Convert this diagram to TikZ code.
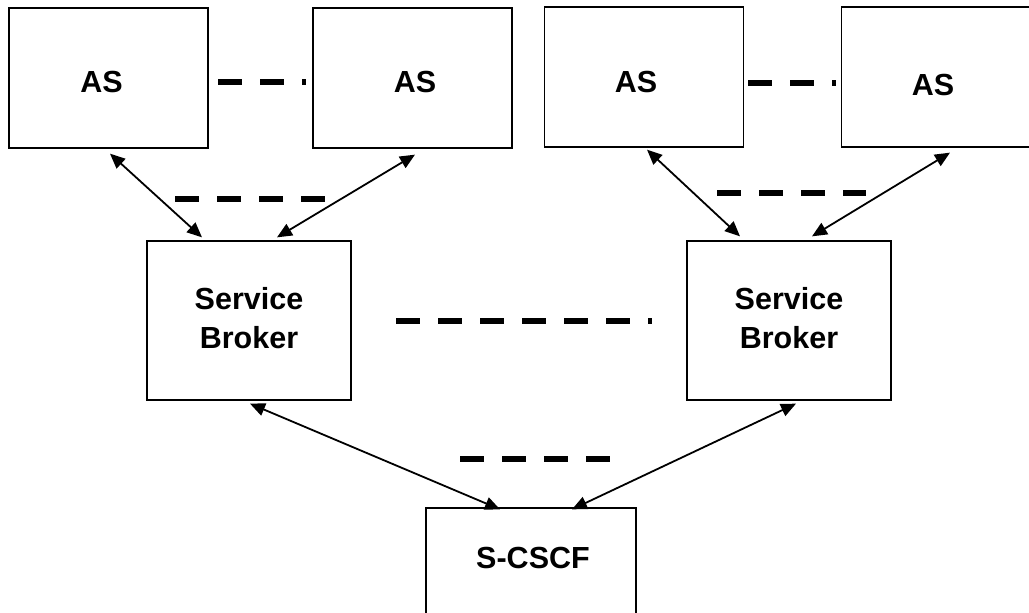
\documentclass[tikz,border=0pt]{standalone}
\usepackage{fontspec}
\setmainfont{Liberation Sans}
\usetikzlibrary{arrows.meta,calc}

\tikzset{
  box/.style={draw=black, line width=1.3pt, fill=white, inner sep=0pt},
  asbox/.style={box, minimum width=199pt, minimum height=140pt},
  sbbox/.style={box, minimum width=204pt, minimum height=159pt},
  cscfbox/.style={box, minimum width=210pt, minimum height=160pt},
  lbl/.style={font=\fontsize{30.5}{39}\selectfont\bfseries, align=center, inner sep=0pt},
  link/.style={line width=1.8pt, {Triangle[length=15pt,width=13pt]}-{Triangle[length=15pt,width=13pt]}},
  more/.style={line width=6pt, dash pattern=on 24pt off 18pt}
}

\begin{document}
\begin{tikzpicture}[x=1pt,y=-1pt]
  \useasboundingbox (0,0) rectangle (1029,613);
  \clip (0,0) rectangle (1029,613);

  % application servers
  \node[asbox] (as1) at (108.5,78) {};
  \node[asbox] (as2) at (412.5,78) {};
  \node[asbox] (as3) at (644,77) {};
  \node[asbox] (as4) at (941,77) {};
  \node[lbl] (as1t) at ($(as1)+(-7,4)$) {AS};
  \node[lbl] (as2t) at ($(as2)+(2.5,4)$) {AS};
  \node[lbl] (as3t) at ($(as3)+(-8,5)$) {AS};
  \node[lbl] (as4t) at ($(as4)+(-8,8)$) {AS};

  % service brokers
  \node[sbbox] (sbl) at (249,320.5) {};
  \node[sbbox] (sbr) at (789,320.5) {};
  \node[lbl] (sblt) at ($(sbl)+(0,-2)$) {Service\\Broker};
  \node[lbl] (sbrt) at ($(sbr)+(0,-2)$) {Service\\Broker};

  % serving CSCF
  \node[cscfbox] (cscf) at (531,588) {};
  \node[lbl] (cscft) at (533,558) {S-CSCF};

  % links
  \draw[link] ($(as1.south)+(1.5,5)$) -- ($(sbl.north)+(-47,-3)$);
  \draw[link] ($(as2.south)+(2.5,6)$) -- ($(sbl.north)+(28,-3)$);
  \draw[link] ($(as3.south)+(3,2)$) -- ($(sbr.north)+(-49,-4)$);
  \draw[link] ($(as4.south)+(9,5)$) -- ($(sbr.north)+(23,-4)$);
  \draw[link] ($(sbl.south)+(1,3)$) -- ($(cscf.north)+(-31,2)$);
  \draw[link] ($(sbr.south)+(7,3)$) -- ($(cscf.north)+(41,2)$);

  % "and so on" dashes
  \draw[more] (218,82) -- (306,82);
  \draw[more] (748,83) -- (836,83);
  \draw[more] (175,199) -- (325,199);
  \draw[more] (717,193) -- (866,193);
  \draw[more] (396,321) -- (652,321);
  \draw[more] (460,459) -- (610,459);
\end{tikzpicture}
\end{document}
